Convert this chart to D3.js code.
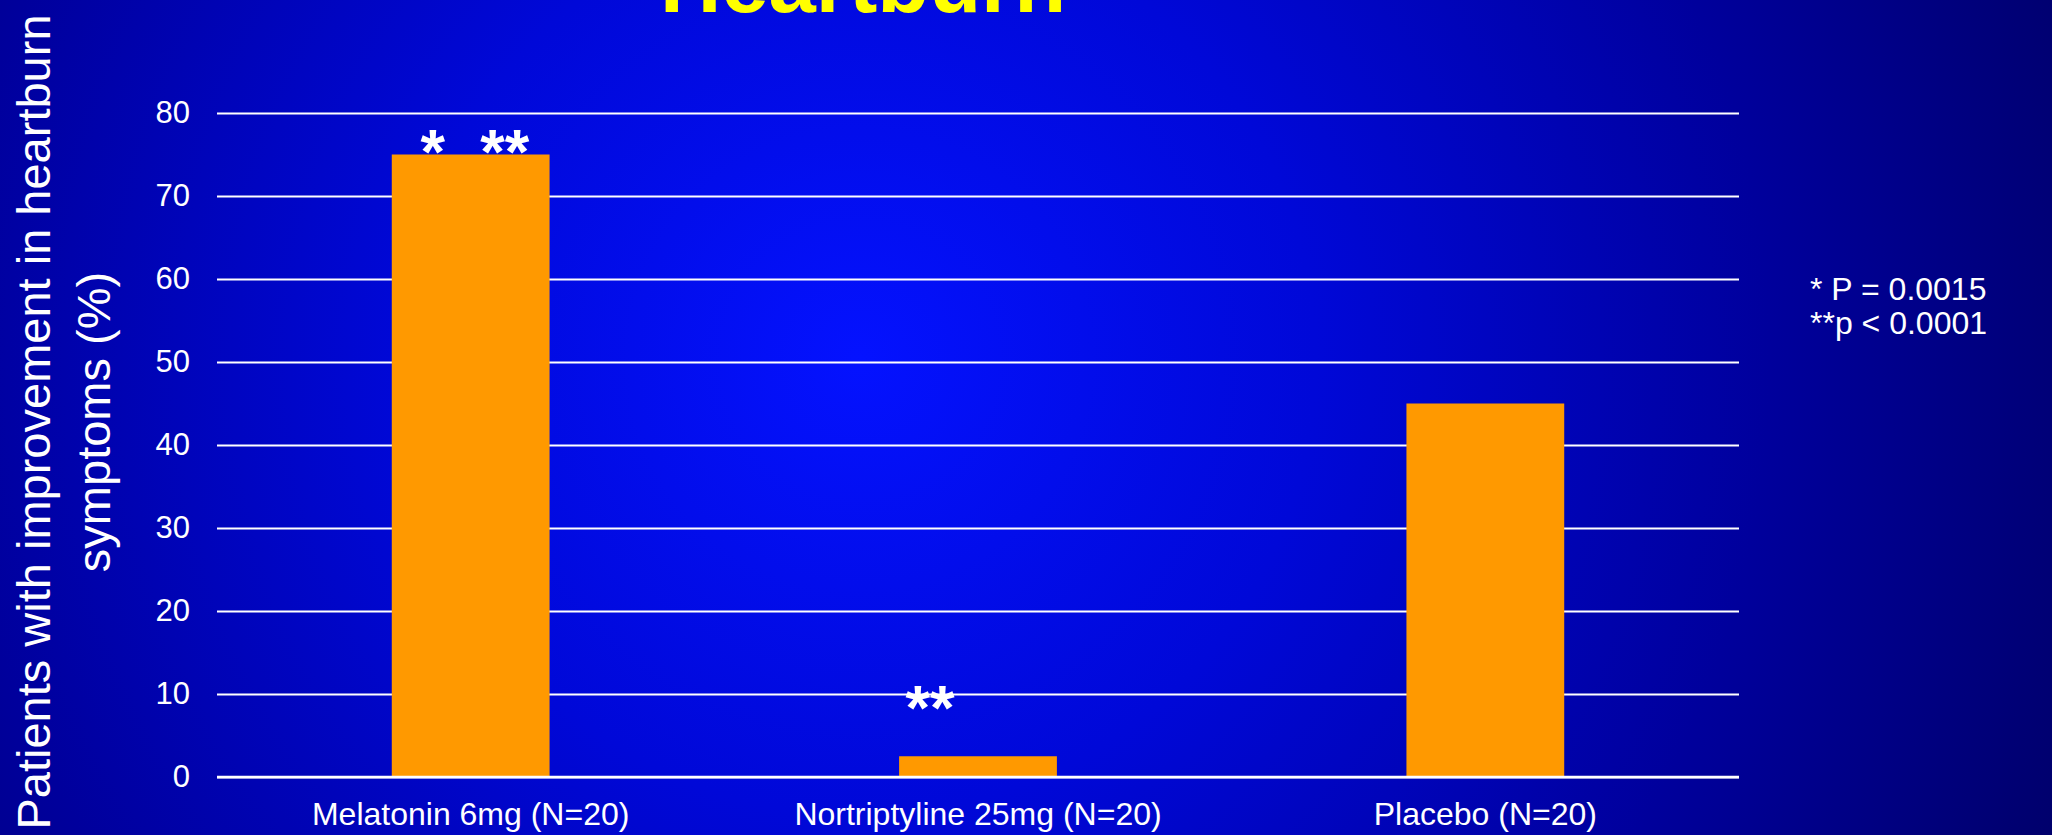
<!DOCTYPE html>
<html>
<head>
<meta charset="utf-8">
<script src="https://cdn.jsdelivr.net/npm/d3@7"></script>
<style>
  html, body { margin: 0; padding: 0; overflow: hidden; background: #000080; }
  svg { display: block; font-family: "Liberation Sans", Arial, sans-serif; }
</style>
</head>
<body>
<svg id="chart"></svg>
<script>
// chart values
const categories = ['Melatonin 6mg (N=20)', 'Nortriptyline 25mg (N=20)', 'Placebo (N=20)'];
const improvement = [75, 2.5, 45];
const yTicks = [0, 10, 20, 30, 40, 50, 60, 70, 80];

// significance marks: which bar, text and the level (in %) they sit at
const markCategory = ['Melatonin 6mg (N=20)', 'Melatonin 6mg (N=20)', 'Nortriptyline 25mg (N=20)'];
const markText = ['*', '**', '**'];
const markLevel = [72.8, 72.8, 5.8];

const titleText = 'Heartburn';
const yTitleLines = ['Patients with improvement in heartburn', 'symptoms (%)'];
const noteLines = ['* P = 0.0015', '**p < 0.0001'];

const W = 2052, H = 835;
const margin = {left: 217, right: 313, top: 113, bottom: 58};

const svg = d3.select('#chart')
    .attr('width', W)
    .attr('height', H);

// background: blue radial glow
let defs = svg.append('defs');
let grad = defs.append('radialGradient')
    .attr('id', 'bg')
    .attr('gradientUnits', 'userSpaceOnUse')
    .attr('cx', 860).attr('cy', 360).attr('r', 1300);
grad.append('stop').attr('offset', '0%').attr('stop-color', '#0412ff');
grad.append('stop').attr('offset', '35%').attr('stop-color', '#0008d8');
grad.append('stop').attr('offset', '70%').attr('stop-color', '#00009c');
grad.append('stop').attr('offset', '100%').attr('stop-color', '#00006a');

svg.append('rect')
    .attr('width', W).attr('height', H)
    .attr('fill', 'url(#bg)');

const x = d3.scaleBand()
    .domain(categories)
    .range([margin.left, W - margin.right])
    .paddingInner(0.689)
    .paddingOuter(0.3445);

const y = d3.scaleLinear()
    .domain([0, 80])
    .range([H - margin.bottom, margin.top]);

const plotW = W - margin.right - margin.left;

// gridlines + tick labels
let yAxis = svg.append('g')
    .attr('transform', `translate(${margin.left},0)`)
    .call(d3.axisLeft(y)
      .tickValues(yTicks)
      .tickSize(-plotW)
      .tickPadding(27));

yAxis.select('.domain').remove();
yAxis.selectAll('.tick line')
    .attr('stroke', '#ffffff')
    .attr('stroke-width', 2);
yAxis.selectAll('.tick text')
    .attr('fill', '#ffffff')
    .attr('font-size', 31)
    .attr('font-family', '"Liberation Sans", Arial, sans-serif');

// bars
svg.append('g')
  .selectAll('rect')
  .data(categories)
  .enter().append('rect')
    .attr('x', d => x(d))
    .attr('width', x.bandwidth())
    .attr('y', (d, i) => y(improvement[i]))
    .attr('height', (d, i) => y(0) - y(improvement[i]))
    .attr('fill', '#ff9900');

// baseline on top of the bars
svg.append('line')
    .attr('x1', margin.left).attr('x2', W - margin.right)
    .attr('y1', y(0)).attr('y2', y(0))
    .attr('stroke', '#ffffff')
    .attr('stroke-width', 2.5);

// category labels
let xAxis = svg.append('g')
    .attr('transform', `translate(0,${y(0)})`)
    .call(d3.axisBottom(x).tickSize(0).tickPadding(0));
xAxis.select('.domain').remove();
xAxis.selectAll('.tick text')
    .attr('fill', '#ffffff')
    .attr('font-size', 32)
    .attr('font-family', '"Liberation Sans", Arial, sans-serif')
    .attr('dy', 48);

// asterisks
const markNudge = [-38, 34, -48];
svg.append('g')
  .selectAll('text')
  .data(markText)
  .enter().append('text')
    .attr('x', (d, i) => x(markCategory[i]) + x.bandwidth() / 2 + markNudge[i])
    .attr('y', (d, i) => y(markLevel[i]))
    .attr('text-anchor', 'middle')
    .attr('fill', '#ffffff')
    .attr('font-size', 63)
    .attr('font-weight', 'bold')
    .text(d => d);

// title, mostly above the frame
svg.append('text')
    .attr('x', 863)
    .attr('y', 12)
    .attr('text-anchor', 'middle')
    .attr('fill', '#ffff00')
    .attr('font-size', 85)
    .attr('font-weight', 'bold')
    .text(titleText);

// y axis title
let yTitle = svg.append('text')
    .attr('transform', 'translate(50,422) rotate(-90)')
    .attr('text-anchor', 'middle')
    .attr('fill', '#ffffff')
    .attr('font-size', 47);
yTitle.selectAll('tspan')
  .data(yTitleLines)
  .enter().append('tspan')
    .attr('x', 0)
    .attr('y', (d, i) => i * 60)
    .text(d => d);

// p-value note
svg.append('g')
  .selectAll('text')
  .data(noteLines)
  .enter().append('text')
    .attr('x', 1810)
    .attr('y', (d, i) => 300 + i * 34)
    .attr('fill', '#ffffff')
    .attr('font-size', 32)
    .text(d => d);
</script>
</body>
</html>
